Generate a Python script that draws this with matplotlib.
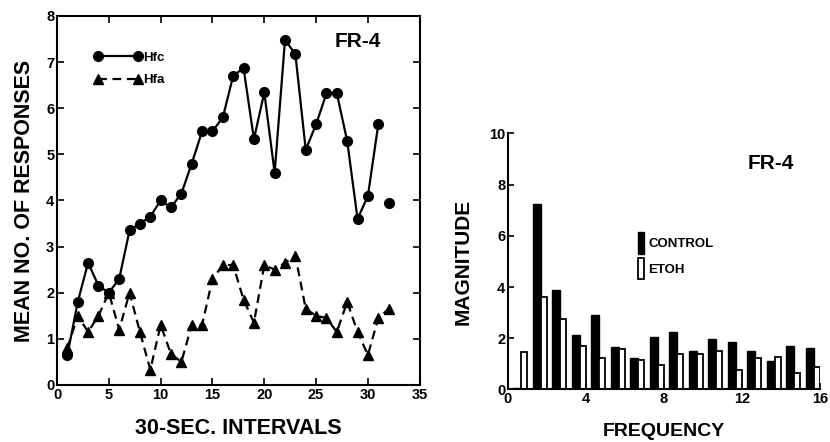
import numpy as np
import matplotlib
matplotlib.use("Agg")
import matplotlib.pyplot as plt
from matplotlib.lines import Line2D
from matplotlib.patches import Patch

plt.rcParams['font.family'] = ['Liberation Sans', 'DejaVu Sans']
plt.rcParams['font.weight'] = 'bold'

# Left panel: mean responses per 30-sec interval
intervals = np.arange(1, 33)
hfc = [0.65, 1.8, 2.65, 2.15, 2.0, 2.3, 3.35, 3.5, 3.65, 4.0, 3.85, 4.15,
       4.8, 5.5, 5.5, 5.8, 6.7, 6.87, 5.33, 6.34, 4.6, 7.48, 7.17, 5.1,
       5.65, 6.32, 6.32, 5.29, 3.6, 4.1, 5.65, 3.95]
hfa = [0.8, 1.5, 1.15, 1.5, 2.0, 1.2, 2.0, 1.15, 0.33, 1.3, 0.67, 0.5,
       1.3, 1.3, 2.3, 2.6, 2.6, 1.85, 1.35, 2.6, 2.5, 2.65, 2.8, 1.65,
       1.5, 1.45, 1.15, 1.8, 1.15, 0.65, 1.45, 1.65]

# Right panel: spectrum magnitude
freq_bins = np.arange(0, 16)
control = [0.05, 7.25, 3.88, 2.12, 2.9, 1.64, 1.21, 2.06, 2.24, 1.5,
           1.97, 1.85, 1.51, 1.12, 1.68, 1.63]
etoh = [1.47, 3.6, 2.75, 1.7, 1.21, 1.58, 1.15, 0.95, 1.37, 1.37,
        1.51, 0.76, 1.22, 1.25, 0.66, 0.86]

fig = plt.figure(figsize=(8.3, 4.42), dpi=100)

# ---------------- left panel
ax1 = fig.add_axes([0.0687, 0.129, 0.437, 0.835])
ax1.plot(intervals[:-1], hfc[:-1], color='black', lw=1.6, marker='o',
         markersize=7)
ax1.plot(intervals[-1:], hfc[-1:], color='black', lw=0, marker='o',
         markersize=7)
ax1.plot(intervals, hfa, color='black', lw=1.6, ls=(0, (4, 2.5)), marker='^',
         markersize=7.5)
ax1.set_xlim(0, 35)
ax1.set_ylim(0, 8)
ax1.set_xticks(np.arange(0, 36, 5))
ax1.set_yticks(np.arange(0, 9, 1))
ax1.tick_params(direction='in', top=True, right=True, length=5, width=1.2,
                labelsize=10.5, pad=2)
for s in ax1.spines.values():
    s.set_linewidth(1.5)
ax1.set_xlabel("30-SEC. INTERVALS", fontsize=15.5, fontweight='bold', labelpad=12)
ax1.set_ylabel("MEAN NO. OF RESPONSES", fontsize=15.5, fontweight='bold',
               labelpad=8)
ax1.text(26.8, 7.44, "FR-4", fontsize=15, fontweight='bold', va='center')

leg_handles = [
    Line2D([], [], color='black', lw=1.6, marker='o', markersize=7),
    Line2D([], [], color='black', lw=1.6, ls=(0, (4, 2.5)), marker='^',
           markersize=7.5),
]
ax1.legend(leg_handles, ["Hfc", "Hfa"], loc='upper left',
           bbox_to_anchor=(0.07, 0.935), frameon=False, numpoints=2,
           handlelength=3.6, handletextpad=0.1, labelspacing=0.75,
           prop={'size': 9.5, 'weight': 'bold'})

# ---------------- right panel
ax2 = fig.add_axes([0.612, 0.119, 0.376, 0.579])
ax2.bar(freq_bins + 0.28, control, width=0.4, align='edge', color='black',
        edgecolor='black', lw=1)
ax2.bar(freq_bins + 0.68, etoh, width=0.3, align='edge', color='white',
        edgecolor='black', lw=1.3)
ax2.set_xlim(0, 16)
ax2.set_ylim(0, 10)
ax2.set_xticks([0, 4, 8, 12, 16])
ax2.set_yticks(np.arange(0, 11, 2))
ax2.spines['top'].set_visible(False)
ax2.spines['right'].set_visible(False)
for s in ['left', 'bottom']:
    ax2.spines[s].set_linewidth(1.5)
ax2.tick_params(direction='in', length=4, width=1.2, labelsize=10.5, pad=2)
ax2.set_xlabel("FREQUENCY", fontsize=14, fontweight='bold', labelpad=12)
ax2.set_ylabel("MAGNITUDE", fontsize=15, fontweight='bold', labelpad=12)
ax2.text(12.3, 8.84, "FR-4", fontsize=15, fontweight='bold', va='center')

bar_handles = [Patch(facecolor='black', edgecolor='black'),
               Patch(facecolor='white', edgecolor='black', lw=1.3)]
ax2.legend(bar_handles, ["CONTROL", "ETOH"], loc='upper left',
           bbox_to_anchor=(0.38, 0.66), frameon=False, handlelength=0.45,
           handleheight=2.1, handletextpad=0.3, labelspacing=0.35,
           prop={'size': 9.5, 'weight': 'bold'})

fig.savefig("out.png", dpi=100)
